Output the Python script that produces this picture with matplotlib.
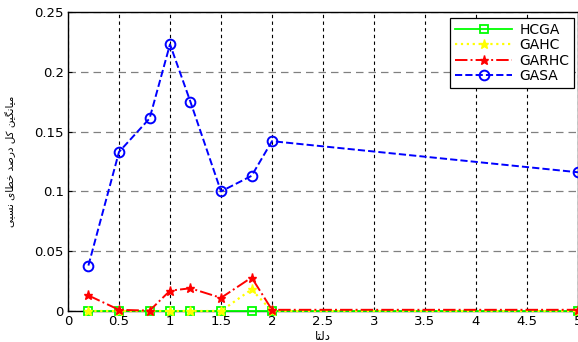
import numpy as np
import matplotlib.pyplot as plt

# data
delta = [0.2, 0.5, 0.8, 1.0, 1.2, 1.5, 1.8, 2.0, 5.0]
hcga = [0, 0, 0, 0, 0, 0, 0, 0, 0]
gahc = [0, 0, 0, 0, 0, 0, 0.018, 0, 0]
garhc = [0.013, 0.001, 0.0003, 0.017, 0.019, 0.011, 0.028, 0.001, 0.001]
gasa = [0.038, 0.133, 0.161, 0.223, 0.175, 0.100, 0.113, 0.142, 0.116]

x_ticks = [0, 0.5, 1, 1.5, 2, 2.5, 3, 3.5, 4, 4.5, 5]
x_tick_labels = ['0', '0.5', '1', '1.5', '2', '2.5', '3', '3.5', '4', '4.5', '5']
y_ticks = [0, 0.05, 0.1, 0.15, 0.2, 0.25]
y_tick_labels = ['0', '0.05', '0.1', '0.15', '0.2', '0.25']

# Persian labels, written in shaped (presentation) forms in visual order
x_label = '\uFE8E\uFE98\uFEDF\uFEA9'  # delta
y_label = ('\uFBFD\uFE92\uFEB4\uFEE7 '     # nesbi
           '\uFBFC\uFE8E\uFEC4\uFEA7 '     # khataye
           '\uFEAA\uFEBB\uFEAD\uFEA9 '     # darsad
           '\uFEDE\uFB90 '                 # kol
           '\uFEE6\uFEF4\uFB95\uFEE7\uFE8E\uFEF4\uFEE3')  # miangin

plt.rcParams['font.family'] = ['DejaVu Sans']

fig = plt.figure(figsize=(5.78, 3.42), dpi=100)
ax = fig.add_axes([68 / 578, 31 / 342, 510 / 578, 299 / 342])

ax.plot(delta, hcga, color='#00ff00', linestyle='-', linewidth=1.3,
        marker='s', markersize=6, markerfacecolor='none', markeredgewidth=1.3,
        label='HCGA', clip_on=False, zorder=3)
ax.plot(delta, gahc, color='#ffff00', linestyle=':', linewidth=1.6,
        marker='*', markersize=6.5, label='GAHC', clip_on=False, zorder=4)
ax.plot(delta, garhc, color='#ff0000', linestyle='-.', linewidth=1.4,
        marker='*', markersize=6.5, label='GARHC', clip_on=False, zorder=5)
ax.plot(delta, gasa, color='#0000ff', linestyle='--', linewidth=1.4,
        marker='o', markersize=7, markerfacecolor='none', markeredgewidth=1.4,
        label='GASA', clip_on=False, zorder=6)

ax.set_xlim(0, 5)
ax.set_ylim(0, 0.25)
ax.set_xticks(x_ticks)
ax.set_xticklabels(x_tick_labels)
ax.set_yticks(y_ticks)
ax.set_yticklabels(y_tick_labels)
ax.tick_params(direction='in', length=3, labelsize=9.5)
ax.tick_params(axis='x', pad=3)
ax.tick_params(axis='y', pad=3)

# vertical grid black, horizontal grid gray
ax.xaxis.grid(True, color='black', linestyle=(0, (3, 3)), linewidth=0.8)
ax.yaxis.grid(True, color='#808080', linestyle=(0, (6, 4)), linewidth=0.9)

for s in ax.spines.values():
    s.set_linewidth(1.0)

ax.set_xlabel(x_label, fontsize=8.5, labelpad=1)
ax.set_ylabel(y_label, fontsize=7.5)
ax.yaxis.set_label_coords(-52 / 510, 0.5)

leg = ax.legend(loc='upper right', bbox_to_anchor=(574 / 578, 1 - 18 / 342),
                bbox_transform=fig.transFigure, borderaxespad=0, fontsize=10,
                fancybox=False, framealpha=1, edgecolor='black',
                handlelength=4.1, handletextpad=0.5, borderpad=0.35,
                labelspacing=0.1)
leg.get_frame().set_linewidth(0.9)

plt.savefig('out.png', dpi=100)
